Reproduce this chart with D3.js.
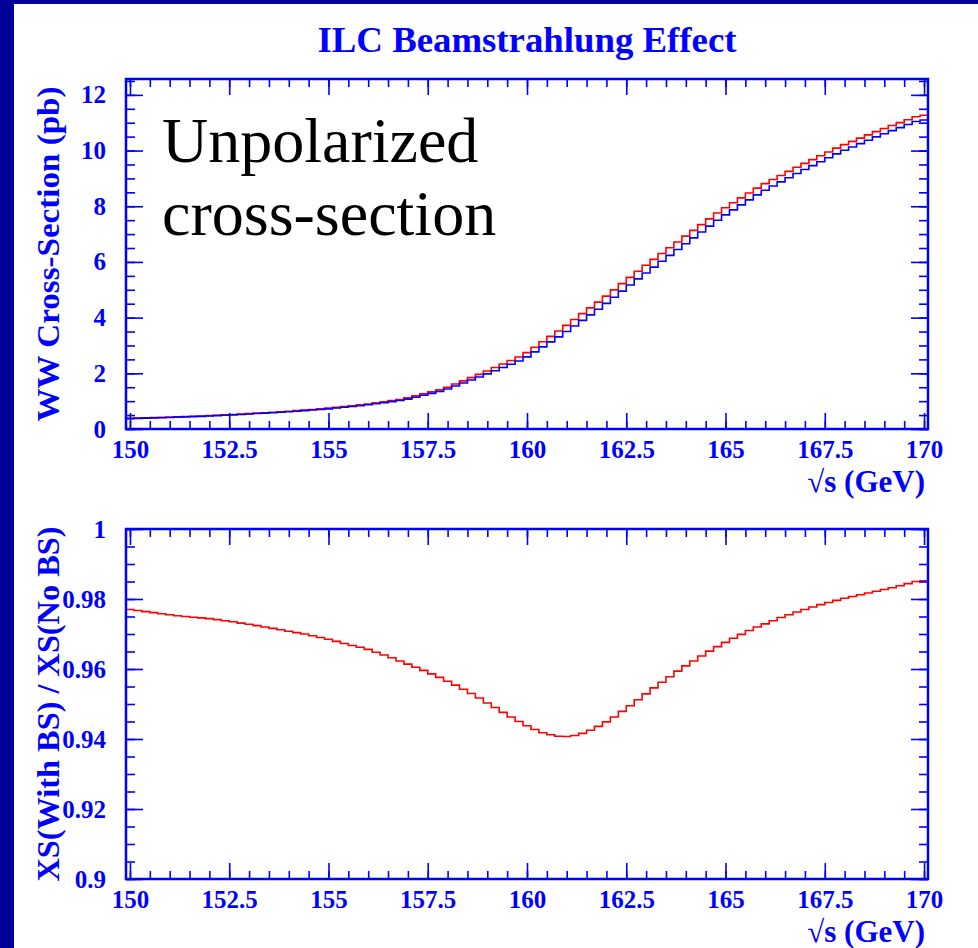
<!DOCTYPE html>
<html>
<head>
<meta charset="utf-8">
<script src="https://cdn.jsdelivr.net/npm/d3@7"></script>
<style>
  html, body { margin: 0; padding: 0; background: #000099; }
  svg { display: block; }
  text { font-family: "Liberation Serif", "Times New Roman", serif; }
</style>
</head>
<body>
<svg id="chart" width="978" height="948"></svg>
<script>
// ---------------- data ----------------
const titleText = "ILC Beamstrahlung Effect";
const binStart = 150;      // centre of first bin (GeV)
const binWidth = 0.2;      // GeV

// WW cross-section with beamstrahlung (pb)
const xsWithBS = [
  0.374,0.382,0.390,0.398,0.406, 0.415,0.425,0.435,0.445,0.455,
  0.467,0.481,0.495,0.509,0.523, 0.538,0.554,0.570,0.586,0.602,
  0.620,0.640,0.660,0.680,0.700, 0.724,0.752,0.780,0.808,0.836,
  0.869,0.907,0.945,0.983,1.021, 1.074,1.142,1.210,1.278,1.346,
  1.434,1.542,1.650,1.758,1.866, 1.978,2.094,2.210,2.326,2.442,
  2.590,2.770,2.950,3.130,3.310, 3.500,3.700,3.900,4.100,4.300,
  4.510,4.730,4.950,5.170,5.390, 5.605,5.815,6.025,6.235,6.445,
  6.655,6.865,7.075,7.285,7.495, 7.690,7.870,8.050,8.230,8.410,
  8.575,8.725,8.875,9.025,9.175, 9.320,9.460,9.600,9.740,9.880,
  10.010,10.130,10.250,10.370,10.490, 10.605,10.715,10.825,10.935,11.045,
  11.100
];
// WW cross-section without beamstrahlung (pb)
const xsNoBS = [
  0.383,0.391,0.399,0.408,0.416, 0.425,0.436,0.446,0.457,0.467,
  0.479,0.494,0.508,0.523,0.537, 0.553,0.570,0.586,0.603,0.620,
  0.639,0.660,0.680,0.701,0.722, 0.748,0.777,0.806,0.836,0.865,
  0.900,0.940,0.980,1.021,1.061, 1.117,1.189,1.261,1.333,1.406,
  1.499,1.614,1.729,1.845,1.961, 2.081,2.207,2.332,2.458,2.584,
  2.744,2.938,3.132,3.326,3.518, 3.721,3.932,4.142,4.350,4.557,
  4.773,4.998,5.222,5.445,5.667, 5.882,6.092,6.301,6.510,6.718,
  6.926,7.134,7.341,7.548,7.756, 7.948,8.123,8.300,8.476,8.652,
  8.814,8.960,9.105,9.252,9.398, 9.539,9.676,9.812,9.949,10.086,
  10.212,10.329,10.446,10.563,10.680, 10.792,10.898,11.003,11.108,11.213,
  11.267
];
// ratio XS(With BS) / XS(No BS)
const xsRatio = [
  0.9770,0.9767,0.9764,0.9761,0.9758, 0.9755,0.9752,0.9750,0.9748,0.9746,
  0.9744,0.9741,0.9738,0.9735,0.9731, 0.9728,0.9724,0.9720,0.9716,0.9712,
  0.9708,0.9704,0.9700,0.9695,0.9690, 0.9685,0.9679,0.9673,0.9667,0.9662,
  0.9656,0.9648,0.9640,0.9632,0.9623, 0.9614,0.9605,0.9596,0.9586,0.9576,
  0.9565,0.9554,0.9542,0.9530,0.9517, 0.9503,0.9490,0.9476,0.9463,0.9450,
  0.9438,0.9427,0.9418,0.9412,0.9408, 0.9407,0.9410,0.9416,0.9425,0.9436,
  0.9449,0.9463,0.9479,0.9495,0.9512, 0.9529,0.9546,0.9562,0.9578,0.9594,
  0.9609,0.9623,0.9637,0.9651,0.9664, 0.9676,0.9688,0.9699,0.9710,0.9720,
  0.9729,0.9738,0.9747,0.9755,0.9763, 0.9770,0.9777,0.9784,0.9790,0.9796,
  0.9802,0.9807,0.9812,0.9817,0.9822, 0.9827,0.9832,0.9838,0.9844,0.9850,
  0.9852
];

const xMajorTicks = [150, 152.5, 155, 157.5, 160, 162.5, 165, 167.5, 170];
const xMinorTicks = [150,150.5,151,151.5,152,152.5,153,153.5,154,154.5,155,155.5,156,156.5,157,157.5,158,158.5,159,159.5,160,160.5,161,161.5,162,162.5,163,163.5,164,164.5,165,165.5,166,166.5,167,167.5,168,168.5,169,169.5,170];
const topYMajor = [0, 2, 4, 6, 8, 10, 12];
const topYMinor = [0,0.5,1,1.5,2,2.5,3,3.5,4,4.5,5,5.5,6,6.5,7,7.5,8,8.5,9,9.5,10,10.5,11,11.5,12,12.5];
const botYMajor = [0.9, 0.92, 0.94, 0.96, 0.98, 1];
const botYMinor = [0.9,0.905,0.91,0.915,0.92,0.925,0.93,0.935,0.94,0.945,0.95,0.955,0.96,0.965,0.97,0.975,0.98,0.985,0.99,0.995,1];

const topYTitle = "WW Cross-Section (pb)";
const botYTitle = "XS(With BS) / XS(No BS)";
const xTitle = "\u221As (GeV)";
const noteLines = ["Unpolarized", "cross-section"];

// ---------------- drawing ----------------
const svg = d3.select("#chart");
const AXIS = "#0000ff";

svg.append("rect").attr("x", 14).attr("y", 4).attr("width", 978 - 14).attr("height", 948 - 4).attr("fill", "#ffffff");

svg.append("text").attr("x", 527).attr("y", 52).attr("text-anchor", "middle")
  .attr("font-size", 36).attr("font-weight", "bold").attr("fill", AXIS)
  .attr("textLength", 419).attr("lengthAdjust", "spacingAndGlyphs")
  .text(titleText);

const L = 126, R = 928;
const x = d3.scaleLinear().domain([149.9, 170.1]).range([L, R]);

function panel(top, bottom, yDomain, yMajor, yMinor, yTitle, yTitleLen, series) {
  const y = d3.scaleLinear().domain(yDomain).range([bottom, top]);
  const g = svg.append("g");

  // histograms
  const line = d3.line().x(d => x(d[0])).y(d => y(d[1])).curve(d3.curveStepAfter);
  series.forEach(s => {
    const pts = s.values.map((v, i) => [binStart + i * binWidth - binWidth / 2, v]);
    pts.push([binStart + (s.values.length - 1) * binWidth + binWidth / 2, s.values[s.values.length - 1]]);
    g.append("path").attr("d", line(pts)).attr("fill", "none")
      .attr("stroke", s.color).attr("stroke-width", 1.6);
  });

  const styleAxis = sel => {
    sel.select(".domain").remove();
    sel.selectAll(".tick line").attr("stroke", AXIS).attr("stroke-width", 1.6);
    sel.selectAll(".tick text").attr("fill", AXIS).attr("font-size", 25)
      .attr("font-weight", "bold").attr("font-family", "Liberation Serif, serif");
  };

  // x axes
  g.append("g").attr("transform", `translate(0,${bottom})`)
    .call(d3.axisBottom(x).tickValues(xMinorTicks).tickSize(-8).tickFormat(""))
    .call(styleAxis);
  g.append("g").attr("transform", `translate(0,${bottom})`)
    .call(d3.axisBottom(x).tickValues(xMajorTicks).tickSize(-16).tickPadding(11).tickFormat(d => String(d)))
    .call(styleAxis);
  g.append("g").attr("transform", `translate(0,${top})`)
    .call(d3.axisTop(x).tickValues(xMinorTicks).tickSize(-8).tickFormat(""))
    .call(styleAxis);
  g.append("g").attr("transform", `translate(0,${top})`)
    .call(d3.axisTop(x).tickValues(xMajorTicks).tickSize(-16).tickFormat(""))
    .call(styleAxis);

  // y axes
  g.append("g").attr("transform", `translate(${L},0)`)
    .call(d3.axisLeft(y).tickValues(yMinor).tickSize(-9).tickFormat(""))
    .call(styleAxis);
  g.append("g").attr("transform", `translate(${L},0)`)
    .call(d3.axisLeft(y).tickValues(yMajor).tickSize(-17).tickPadding(20).tickFormat(d => String(d)))
    .call(styleAxis);
  g.append("g").attr("transform", `translate(${R},0)`)
    .call(d3.axisRight(y).tickValues(yMinor).tickSize(-9).tickFormat(""))
    .call(styleAxis);
  g.append("g").attr("transform", `translate(${R},0)`)
    .call(d3.axisRight(y).tickValues(yMajor).tickSize(-17).tickFormat(""))
    .call(styleAxis);

  // frame
  g.append("rect").attr("x", L).attr("y", top).attr("width", R - L).attr("height", bottom - top)
    .attr("fill", "none").attr("stroke", AXIS).attr("stroke-width", 2.5);

  // titles
  const cy = (top + bottom) / 2;
  g.append("text").attr("transform", `translate(59,${cy}) rotate(-90)`)
    .attr("text-anchor", "middle").attr("font-size", 32).attr("font-weight", "bold")
    .attr("fill", AXIS).attr("textLength", yTitleLen).attr("lengthAdjust", "spacingAndGlyphs")
    .text(yTitle);
  g.append("text").attr("x", 925).attr("y", bottom + 63).attr("text-anchor", "end")
    .attr("font-size", 31).attr("font-weight", "bold").attr("fill", AXIS)
    .text(xTitle);
  return y;
}

panel(79, 429, [0, 12.57], topYMajor, topYMinor, topYTitle, 335, [
  { values: xsNoBS, color: "#ff0000" },
  { values: xsWithBS, color: "#0000ff" }
]);
panel(529, 879, [0.9, 1.0], botYMajor, botYMinor, botYTitle, 355, [
  { values: xsRatio, color: "#ff0000" }
]);

// annotation
const note = svg.append("text").attr("font-size", 64).attr("fill", "#000000");
note.append("tspan").attr("x", 162).attr("y", 162).text(noteLines[0]);
note.append("tspan").attr("x", 162).attr("y", 235).text(noteLines[1]);
</script>
</body>
</html>
